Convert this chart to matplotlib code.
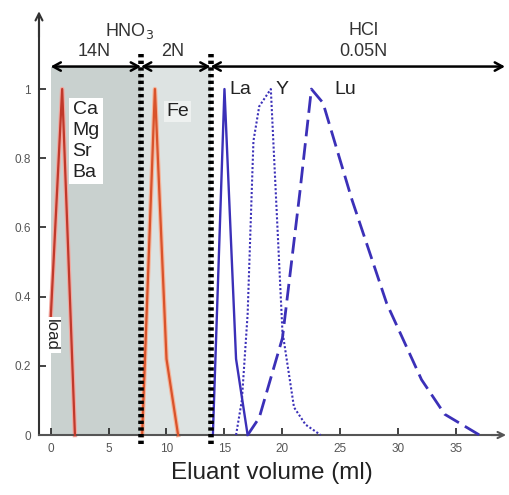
import numpy as np
import matplotlib
matplotlib.use("Agg")
import matplotlib.pyplot as plt

plt.rcParams["font.family"] = ["Liberation Sans", "DejaVu Sans"]

# elution curves (volume in ml, normalised intensity)
ca_x = [0, 1, 1.5, 2.1]
ca_y = [0.33, 1.0, 0.55, 0.0]
fe_x = [7.9, 9, 10, 11]
fe_y = [0.0, 1.0, 0.22, 0.0]
la_x = [14, 15, 16, 17]
la_y = [0.0, 1.0, 0.22, 0.0]
y_x = [16, 16.5, 17, 17.5, 18, 19, 20, 21, 22, 23.3]
y_y = [0.0, 0.1, 0.35, 0.85, 0.95, 1.0, 0.3, 0.08, 0.03, 0.0]
lu_x = [17, 18, 20, 21.5, 22.5, 23.5, 26, 29, 32, 34, 37]
lu_y = [0.0, 0.05, 0.28, 0.7, 1.0, 0.96, 0.68, 0.38, 0.16, 0.06, 0.0]

# eluant switch points
cuts = [7.8, 13.8]
xticks = [0, 5, 10, 15, 20, 25, 30, 35]
yticks = [0, 0.2, 0.4, 0.6, 0.8, 1]

blue = "#3b30b8"

fig = plt.figure(figsize=(5.09, 4.95), dpi=100)
ax = fig.add_axes([0.0766, 0.1002, 0.9155, 0.8737])
ax.set_xlim(-1.0, 39.2)
ax.set_ylim(-0.03, 1.22)

# shaded acid zones
ax.fill_between([0, cuts[0]], 0, 1.063, color="#c9d1cf", lw=0, zorder=0)
ax.fill_between([cuts[0], cuts[1]], 0, 1.063, color="#dde3e2", lw=0, zorder=0)

# curves
ax.plot(ca_x, ca_y, color="#f2a8a0", lw=3.2, zorder=2)
ax.plot(ca_x, ca_y, color="#c0392b", lw=1.6, zorder=3)
ax.plot(fe_x, fe_y, color="#f5b49a", lw=3.2, zorder=2)
ax.plot(fe_x, fe_y, color="#d9532b", lw=1.6, zorder=3)
ax.plot(la_x, la_y, color=blue, lw=1.7, zorder=3)
ax.plot(y_x, y_y, color=blue, lw=1.5, ls=(0, (1, 1)), zorder=3)
ax.plot(lu_x, lu_y, color=blue, lw=2.0, ls=(0, (6, 2.5)), zorder=3)

# cut lines
for c in cuts:
    ax.plot([c, c], [-0.025, 1.107], color="black", lw=4, ls=(0, (0.6, 0.6)),
            solid_capstyle="butt", dash_capstyle="butt", zorder=4)

# eluant arrows
ay = 1.065
arr = dict(arrowstyle="<->,head_length=0.55,head_width=0.3", color="black", lw=1.8,
           shrinkA=0, shrinkB=0)
ax.annotate("", xy=(0, ay), xytext=(cuts[0], ay), arrowprops=arr, zorder=5)
ax.annotate("", xy=(cuts[0], ay), xytext=(cuts[1], ay), arrowprops=arr, zorder=5)
ax.annotate("", xy=(39.2, ay), xytext=(cuts[1], ay), arrowprops=arr, zorder=5)

tc = "#333333"
ax.text(6.8, 1.168, "HNO$_3$", ha="center", va="center", fontsize=13, color=tc)
ax.text(3.8, 1.108, "14N", ha="center", va="center", fontsize=13, color=tc)
ax.text(10.5, 1.108, "2N", ha="center", va="center", fontsize=13, color=tc)
ax.text(27.0, 1.17, "HCl", ha="center", va="center", fontsize=13, color=tc)
ax.text(27.0, 1.108, "0.05N", ha="center", va="center", fontsize=13, color=tc)

box = dict(facecolor="white", edgecolor="none", pad=2.5)
ax.text(1.9, 0.965, "Ca\nMg\nSr\nBa", ha="left", va="top", fontsize=14,
        linespacing=1.3, color="#222222", bbox=box, zorder=5)
ax.text(10.0, 0.935, "Fe", ha="left", va="center", fontsize=14, color="#222222",
        bbox=dict(facecolor="#eef1f0", edgecolor="none", pad=1.5), zorder=5)
ax.text(15.4, 1.0, "La", ha="left", va="center", fontsize=14, color="#222222",
        bbox=dict(facecolor="white", edgecolor="none", pad=1.5), zorder=5)
ax.text(20.0, 1.0, "Y", ha="center", va="center", fontsize=14, color="#222222")
ax.text(25.4, 1.0, "Lu", ha="center", va="center", fontsize=14, color="#222222")
ax.text(0.05, 0.29, "load", ha="center", va="center", rotation=270, fontsize=12,
        color="#222222", bbox=dict(facecolor="white", edgecolor="none", pad=1.5),
        zorder=5)

# axes with arrows
for s in ["top", "right"]:
    ax.spines[s].set_visible(False)
ax.spines["bottom"].set_position(("data", 0))
ax.spines["left"].set_bounds(0, 1.2)
ax.spines["bottom"].set_bounds(-1.0, 38.8)
ax.spines["left"].set_linewidth(1.5)
ax.spines["bottom"].set_linewidth(1.5)
ax.spines["left"].set_color("#333333")
ax.spines["bottom"].set_color("#555555")
ax.annotate("", xy=(-1.0, 1.225), xytext=(-1.0, 1.15),
            arrowprops=dict(arrowstyle="->,head_length=0.5,head_width=0.25",
                            color="#333333", lw=1.5, shrinkA=0, shrinkB=0),
            annotation_clip=False)
ax.annotate("", xy=(39.3, 0), xytext=(38.0, 0),
            arrowprops=dict(arrowstyle="->,head_length=0.45,head_width=0.22",
                            color="#555555", lw=1.5, shrinkA=0, shrinkB=0),
            annotation_clip=False)

ax.set_xticks(xticks)
ax.set_yticks(yticks)
ax.set_yticklabels(["0", "0.2", "0.4", "0.6", "0.8", "1"])
ax.tick_params(direction="in", length=5, width=1.2, labelsize=8.5, colors="#222222",
               labelcolor="#555555", pad=6)
ax.set_xlabel("Eluant volume (ml)", fontsize=17.5, color="#222222", labelpad=5)

fig.savefig("out.png", dpi=100)
